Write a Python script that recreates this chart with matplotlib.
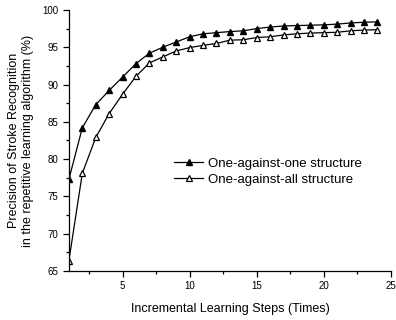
import matplotlib
matplotlib.use("Agg")
import matplotlib.pyplot as plt
from matplotlib.ticker import MultipleLocator

plt.rcParams['font.family'] = ['Liberation Sans', 'DejaVu Sans']

# learning steps
steps = list(range(1, 25))
# one-against-one (filled triangles)
one_vs_one = [77.3, 84.2, 87.3, 89.2, 91.0, 92.8, 94.2, 95.0, 95.7, 96.4,
              96.8, 96.95, 97.1, 97.2, 97.5, 97.7, 97.85, 97.9, 97.95, 98.0,
              98.1, 98.25, 98.35, 98.4]
# one-against-all (open triangles)
one_vs_all = [66.4, 78.1, 82.9, 86.1, 88.7, 91.1, 92.9, 93.7, 94.5, 94.95,
              95.25, 95.5, 95.95, 96.0, 96.3, 96.4, 96.65, 96.8, 96.9, 96.95,
              97.0, 97.2, 97.3, 97.35]

fig = plt.figure(figsize=(3.96, 3.2), dpi=100)
ax = fig.add_axes([0.174, 0.153, 0.813, 0.816])

ax.plot(steps, one_vs_one, color='black', lw=0.9, marker='^', ms=5,
        mfc='black', mec='black', label='One-against-one structure')
ax.plot(steps, one_vs_all, color='black', lw=0.9, marker='^', ms=5,
        mfc='white', mec='black', mew=0.9, label='One-against-all structure')

ax.set_xlim(1, 25)
ax.set_ylim(65, 100)
ax.xaxis.set_major_locator(MultipleLocator(5))
ax.xaxis.set_minor_locator(MultipleLocator(2.5))
ax.yaxis.set_major_locator(MultipleLocator(5))
ax.yaxis.set_minor_locator(MultipleLocator(2.5))
ax.set_xticks([5, 10, 15, 20, 25])

for s in ['top', 'right']:
    ax.spines[s].set_visible(False)
for s in ['left', 'bottom']:
    ax.spines[s].set_linewidth(0.9)
ax.tick_params(which='major', direction='out', length=4, width=0.9, labelsize=7)
ax.tick_params(which='minor', direction='out', length=2.5, width=0.9)

ax.set_xlabel('Incremental Learning Steps (Times)', fontsize=9, labelpad=8)
ax.set_ylabel('Precision of Stroke Recognition\nin the repetitive learning algorithm (%)',
              fontsize=9, labelpad=6)

ax.legend(loc='center left', bbox_to_anchor=(0.29, 0.38), frameon=False,
          fontsize=9.5, handlelength=2.2, handletextpad=0.4, labelspacing=0.3)

fig.savefig('out.png', dpi=100)
